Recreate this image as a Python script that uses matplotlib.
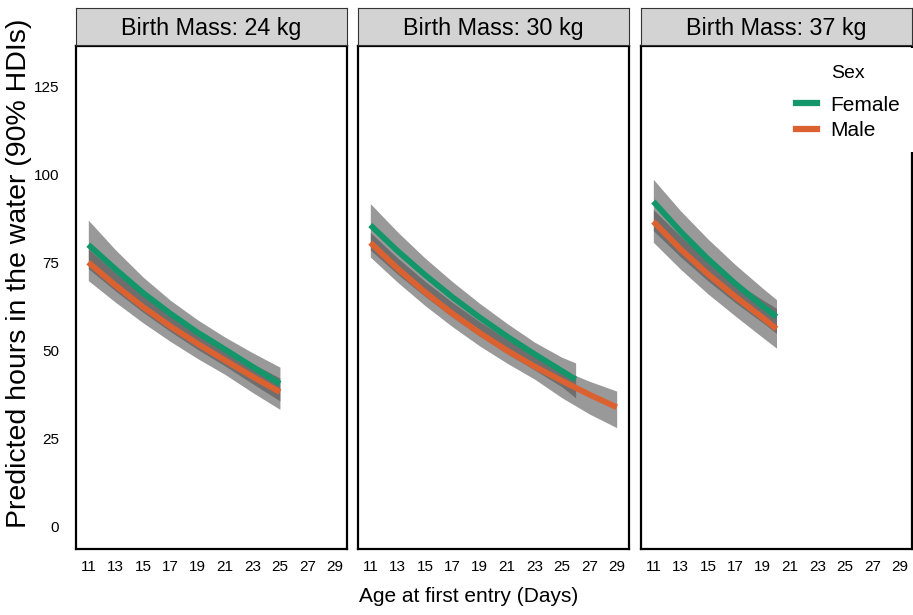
import numpy as np
import matplotlib.pyplot as plt
from matplotlib.lines import Line2D
from matplotlib.patches import Rectangle

plt.rcParams['font.family'] = ['Liberation Sans', 'DejaVu Sans']

# birth mass facets
masses = ['24', '30', '37']

# predicted hours (mean, lower and upper 90% HDI)
days_24 = [11, 13, 15, 17, 19, 21, 23, 25]
fem_24 = [80.0, 73.0, 66.3, 60.4, 55.0, 50.2, 45.3, 40.5]
fem_24_lo = [73.2, 66.8, 60.8, 55.3, 50.2, 45.5, 40.5, 35.6]
fem_24_hi = [87.0, 78.5, 70.8, 64.2, 58.6, 53.7, 49.3, 45.2]
male_24 = [75.0, 68.4, 62.3, 56.8, 51.8, 47.1, 42.5, 38.1]
male_24_lo = [69.8, 63.6, 57.8, 52.5, 47.6, 43.1, 38.0, 33.2]
male_24_hi = [78.8, 72.0, 65.8, 60.3, 55.2, 50.6, 46.2, 42.1]

days_30_f = [11, 13, 15, 17, 19, 21, 23, 25, 26]
fem_30 = [85.6, 78.2, 71.4, 65.1, 59.3, 53.9, 48.9, 44.1, 41.7]
fem_30_lo = [78.5, 71.6, 65.3, 59.4, 54.0, 49.0, 44.4, 39.6, 36.5]
fem_30_hi = [91.7, 83.6, 76.2, 69.5, 63.3, 57.6, 52.3, 48.0, 46.4]
days_30_m = [11, 13, 15, 17, 19, 21, 23, 25, 27, 29]
male_30 = [80.6, 73.2, 66.5, 60.4, 54.9, 49.9, 45.4, 41.3, 37.4, 33.8]
male_30_lo = [76.5, 69.3, 62.7, 56.7, 51.2, 46.3, 41.8, 36.5, 31.9, 28.0]
male_30_hi = [83.5, 76.2, 69.6, 63.6, 58.1, 53.1, 48.6, 44.4, 41.2, 38.4]

days_37 = [11, 13, 15, 17, 19, 20]
fem_37 = [92.3, 83.7, 75.9, 68.9, 62.5, 59.5]
fem_37_lo = [84.0, 76.5, 69.7, 63.5, 57.8, 54.8]
fem_37_hi = [98.6, 89.6, 81.6, 74.3, 67.6, 64.4]
male_37 = [86.6, 78.7, 71.6, 65.2, 59.2, 56.1]
male_37_lo = [80.7, 73.0, 66.0, 59.7, 53.6, 50.6]
male_37_hi = [90.0, 82.4, 75.5, 69.3, 64.3, 61.9]

panels = [
    (days_24, fem_24, fem_24_lo, fem_24_hi, days_24, male_24, male_24_lo, male_24_hi),
    (days_30_f, fem_30, fem_30_lo, fem_30_hi, days_30_m, male_30, male_30_lo, male_30_hi),
    (days_37, fem_37, fem_37_lo, fem_37_hi, days_37, male_37, male_37_lo, male_37_hi),
]

xticks = list(range(11, 30, 2))
yticks = [0, 25, 50, 75, 100, 125]

green = '#12966a'
orange = '#dc6130'

W, H = 913, 615
fig = plt.figure(figsize=(W / 100, H / 100), dpi=100)
lefts = [76, 358, 641]
pw = 271

for i, (m, p) in enumerate(zip(masses, panels)):
    df, f, flo, fhi, dm, ml, mlo, mhi = p
    ax = fig.add_axes([lefts[i] / W, (H - 549) / H, pw / W, (549 - 46) / H])
    ax.fill_between(df, flo, fhi, color='#4f4f4f', alpha=0.58, lw=0)
    ax.fill_between(dm, mlo, mhi, color='#4f4f4f', alpha=0.58, lw=0)
    ax.plot(dm, ml, color=orange, lw=4.2, solid_capstyle='butt')
    ax.plot(df, f, color=green, lw=4.2, solid_capstyle='butt')
    ax.set_xlim(10.1, 29.9)
    ax.set_ylim(-6.5, 136.5)
    ax.set_xticks(xticks)
    ax.set_yticks(yticks)
    ax.tick_params(length=0, labelsize=11, pad=8)
    ax.tick_params(axis='y', pad=12)
    if i > 0:
        ax.set_yticklabels([])
    for s in ax.spines.values():
        s.set_linewidth(1.6)
    strip = fig.add_axes([lefts[i] / W, (H - 45) / H, pw / W, 37 / H])
    strip.set_facecolor('#d3d3d3')
    strip.set_xticks([])
    strip.set_yticks([])
    for s in strip.spines.values():
        s.set_linewidth(0.8)
        s.set_color('#333333')
    strip.text(0.5, 0.45, f'Birth Mass: {m} kg', ha='center', va='center',
               fontsize=16.8, transform=strip.transAxes)

# legend sits over the top of the last panel's right border
fig.patches.append(Rectangle((896 / W, (H - 152) / H), 20 / W, 104 / H,
                             transform=fig.transFigure, facecolor='white',
                             edgecolor='none', zorder=4))
handles = [Line2D([], [], color=green, lw=4.5), Line2D([], [], color=orange, lw=4.5)]
leg = fig.legend(handles, ['Female', 'Male'], title='Sex', loc='upper left',
                 bbox_to_anchor=(777 / W, 1 - 46 / H), frameon=False,
                 fontsize=15, handlelength=1.0, handletextpad=0.65,
                 labelspacing=0.3)
leg.get_title().set_fontsize(14)
leg._legend_box.sep = 10
leg.set_zorder(5)

fig.text(469 / W, 1 - 597 / H, 'Age at first entry (Days)', ha='center',
         va='center', fontsize=15)
fig.text(19 / W, 1 - 273 / H, 'Predicted hours in the water (90% HDIs)',
         ha='center', va='center', rotation=90, fontsize=20.5)

fig.savefig('out.png', dpi=100)
